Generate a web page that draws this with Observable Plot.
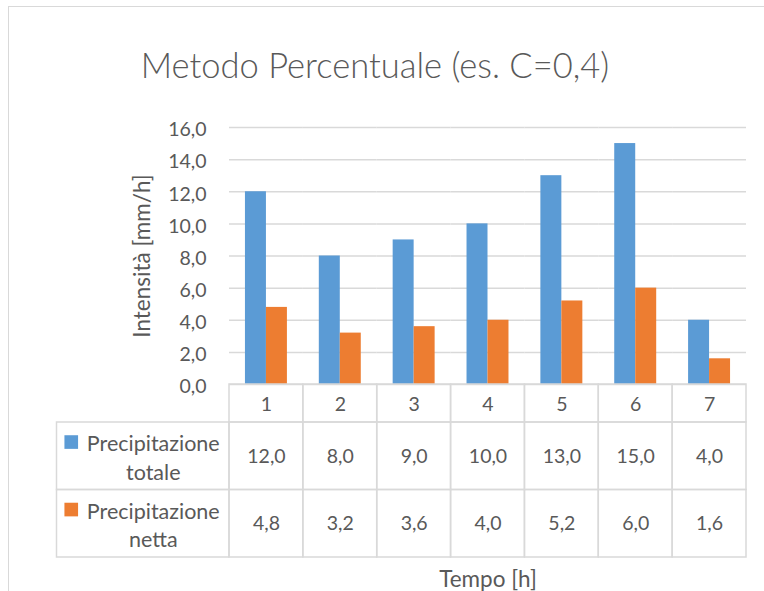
<!DOCTYPE html>
<html><head><meta charset="utf-8">
<script src="https://cdn.jsdelivr.net/npm/d3@7"></script>
<script src="https://cdn.jsdelivr.net/npm/@observablehq/plot@0.6"></script>
<style>
html,body{margin:0;padding:0;background:#fff;overflow:hidden;}
#wrap{position:relative;width:764px;height:591px;overflow:hidden;font-family:Lato,sans-serif;color:#595959;}
#wrap svg{position:absolute;left:0;top:0;}
#frame{position:absolute;left:8px;top:6px;width:900px;height:900px;border:1.5px solid #d9d9d9;box-sizing:border-box;}
#title{position:absolute;left:0;top:48px;width:750px;text-align:center;font-size:34.5px;line-height:34.5px;font-weight:300;white-space:nowrap;}
</style></head>
<body><div id="wrap"><div id="frame"></div></div>
<script>
const title = "Metodo Percentuale (es. C=0,4)";
const yLabel = "Intensità [mm/h]";
const xLabel = "Tempo [h]";
const hours = ["1","2","3","4","5","6","7"];
const seriesNames = ["Precipitazione totale","Precipitazione netta"];
const legendLines = [["Precipitazione","totale"],["Precipitazione","netta"]];
const totale = [12.0, 8.0, 9.0, 10.0, 13.0, 15.0, 4.0];
const netta = [4.8, 3.2, 3.6, 4.0, 5.2, 6.0, 1.6];
const seriesColors = ["#5b9bd5","#ed7d31"];
const yTicks = [0,2,4,6,8,10,12,14,16];

const fmt = v => v.toFixed(1).replace(".", ",");
const values = [totale, netta];
const gridColor = "#d9d9d9";
const textColor = "#595959";
const baseStyle = {fontFamily:"Lato, sans-serif", color:textColor, background:"transparent", overflow:"visible"};

const bars = hours.flatMap((h,i) => seriesNames.map((s,j) => ({hour:h, series:s, value:values[j][i]})));

const chart = Plot.plot({
  width:764, height:591, marginLeft:229, marginRight:18, marginTop:127, marginBottom:207,
  style: baseStyle,
  fx:{domain:hours, padding:0, round:false, label:null},
  x:{domain:seriesNames, paddingInner:0, paddingOuter:0.76, round:false, axis:null},
  y:{domain:[0,16]},
  color:{domain:seriesNames, range:seriesColors},
  marks:[
    Plot.gridY(yTicks, {stroke:gridColor, strokeOpacity:1, strokeWidth:1.5}),
    Plot.barY(bars, {fx:"hour", x:"series", y:"value", fill:"series"}),
    Plot.axisY(yTicks, {tickSize:0, tickPadding:23, tickFormat:fmt, label:null, fontSize:19.5, dy:2.5}),
    Plot.axisY([], {label:yLabel, labelAnchor:"center", labelArrow:"none", labelOffset:95, fontSize:22.5}),
    Plot.axisFx({anchor:"bottom", tickSize:0, tickPadding:13, label:null, fontSize:19.5}),
    Plot.axisFx([], {anchor:"bottom", label:xLabel, labelAnchor:"center", labelArrow:"none", labelOffset:202, fontSize:22.5})
  ]
});

const cells = [];
hours.forEach((h,i) => cells.push({col:i+1, row:0}));
seriesNames.forEach((s,j) => { for (let c = 0; c <= hours.length; c++) cells.push({col:c, row:j+1}); });
const valueCells = seriesNames.flatMap((s,j) => hours.map((h,i) => ({col:i+1, row:j+1, text:fmt(values[j][i])})));
const legendCells = seriesNames.map((s,j) => ({col:0, row:j+1, series:s, text:legendLines[j].join("\n")}));

const table = Plot.plot({
  width:764, height:591, margin:0,
  style: baseStyle,
  x:{type:"linear", domain:[0,1,hours.length+1], range:[56.5,229,746], axis:null},
  y:{type:"linear", domain:[0,1,2,3], range:[384,422,489.5,557], axis:null},
  color:{domain:seriesNames, range:seriesColors},
  marks:[
    Plot.rect(cells, {x1:"col", x2:d=>d.col+1, y1:"row", y2:d=>d.row+1, fill:"none", stroke:gridColor, strokeWidth:1.5}),
    Plot.text(valueCells, {x:d=>d.col+0.5, y:d=>d.row+0.5, text:"text", fontSize:19.5, fill:textColor}),
    Plot.text(legendCells, {x:d=>d.col+0.5, y:d=>d.row+0.5, text:"text", fontSize:21.5, lineHeight:1.32, dx:10, fill:textColor}),
    Plot.dot(legendCells, {x:d=>d.col+0.5, y:d=>d.row+0.5, dx:-72, dy:-14.2, symbol:"square", r:7.7, fill:"series", stroke:"none"})
  ]
});

const wrap = document.getElementById("wrap");
wrap.appendChild(chart);
wrap.appendChild(table);
const t = document.createElement("div");
t.id = "title";
t.textContent = title;
wrap.appendChild(t);
</script>
</body></html>
